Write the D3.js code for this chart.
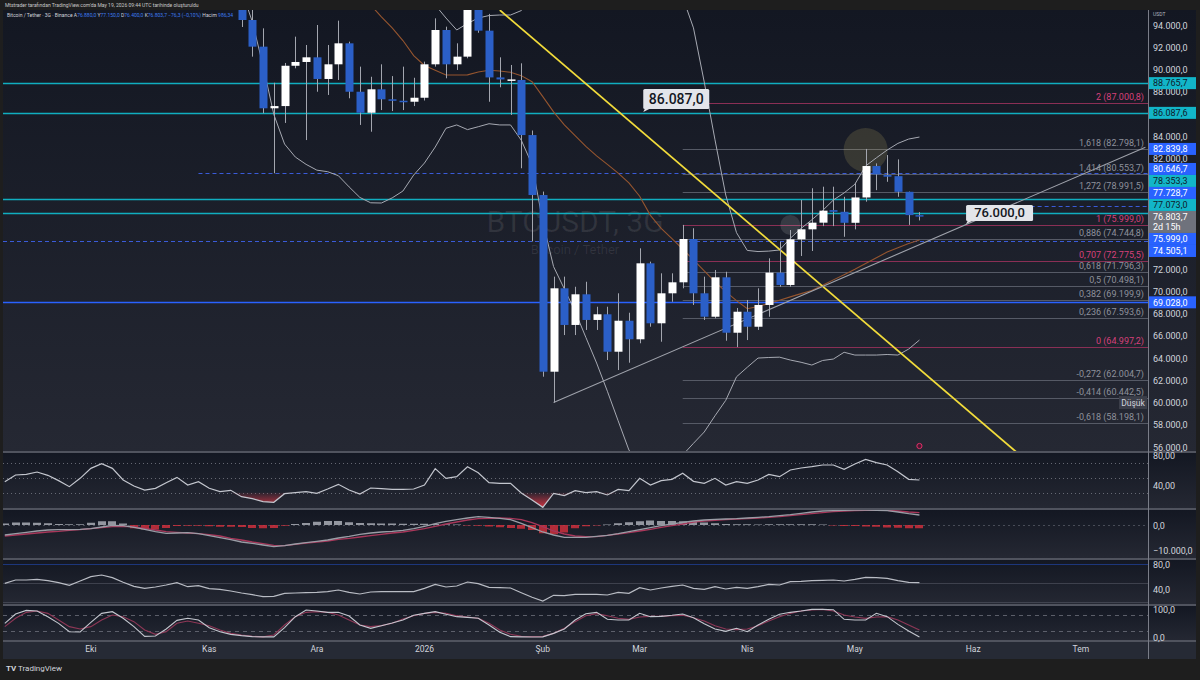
<!DOCTYPE html>
<html>
<head>
<meta charset="utf-8">
<script src="https://cdn.jsdelivr.net/npm/d3@7"></script>
<style>
  body { margin: 0; background: #1e1e1e; }
  svg { display: block; }
</style>
</head>
<body>
<script>
// ---- data (3 day bars, last bar opened 2026-05-19) ----
const lastBarDate = "2026-05-19";
const barDays = 3;

// open, high, low, close  (oldest first, only the bars inside the price window)
const ohlc = [
  [97000,98000,93820,94450],[94450,95600,91150,92050],[92050,93700,86050,86500],[86500,88800,80647,86700],
  [86700,90580,85180,90330],[90330,92950,90100,90670],[90670,92200,83640,91090],[91090,94000,87990,89140],
  [89140,92200,87700,90460],[90460,94390,89050,92350],[92350,92500,87400,87990],[87990,90250,85000,86100],
  [86100,89340,84390,88210],[88210,90460,86340,87310],[87310,89400,86250,87180],[87180,90250,86340,87090],
  [87090,89250,86700,87450],[87450,90700,87200,90460],[90460,94600,90250,93550],[93550,93850,89200,90460],
  [90460,92350,89950,91150],[91150,96500,91000,95700],[95700,97000,93300,93490],[93490,95000,87090,89280],
  [89280,91090,88390,89100],[89000,90400,85900,89100],[89050,90550,81100,84090],[84090,84500,74505,78690],
  [78690,79000,62330,62780],[62780,71340,60000,70290],[70290,71340,66080,66990],[66990,70430,66080,69750],
  [69750,70880,66540,67440],[67440,68630,66540,67950],[67950,68630,63830,64580],[64580,69840,62930,67370],
  [67370,68090,63590,65700],[65700,73890,65340,72540],[72540,72690,66830,67140],[67140,71640,65480,69840],
  [69840,71640,69080,70830],[70830,75999,70290,74730],[74730,75700,68790,69840],[69840,71340,67440,67730],
  [67730,71940,67590,71280],[71280,71780,65570,66290],[66290,68520,64997,68180],[68180,69240,65630,66830],
  [66830,70290,66540,68790],[68790,72990,67730,71700],[71700,74490,70430,70590],[70590,75540,70430,74700],
  [74700,78240,73200,75600],[75600,79300,73650,76200],[76200,79440,75890,77280],[77330,79440,75890,77180],
  [77180,78530,74930,76190],[76190,79800,75600,78470],[78470,82840,78090,81300],[81300,81540,79130,80550],
  [80490,82290,79880,80340],[80390,81900,78530,78980],[78980,79000,75999,76880],[76880,77150,76400,76803.7]
];

// bollinger bands for the same bars
const bbUpper = [112000,111000,110000,108000,106000,104500,103000,102000,101000,100000,99500,99000,98500,98000,97500,97000,96500,96200,
  95800,94630,93550,94140,94630,94850,94900,94900,95300,96300,98800,100100,99800,99900,100300,100900,101900,102900,103800,102800,
  100700,99000,97500,96500,93740,88870,83660,78690,75300,73700,73600,73640,73740,74800,75680,76460,77290,78240,78880,79660,
  81310,82040,82740,83340,83730,83910];
const bbBasis = [104500,103000,101500,100200,99000,98000,97300,96800,96500,96300,96100,95950,95800,
  94740,93740,92600,91240,90360,89930,89500,89500,89510,89770,89930,89860,89740,89440,88890,87550,86180,85000,84040,83070,
  82220,81450,80660,79780,78580,76860,75690,74760,73810,72860,71860,70870,69990,69180,68450,68650,68930,69220,69520,69810,
  70100,70560,71050,71520,72010,72530,73040,73550,73940,74320,74640];
const bbLower = [97150,94310,90340,85950,83280,82110,81450,80930,80790,80430,79420,78470,77990,77970,78430,79050,80490,81570,
  83010,84700,85000,84580,84840,85110,85000,85000,83620,81440,76260,72240,70240,68210,65870,63560,61020,58360,55730,54380,
  53030,52400,53930,55280,56330,57350,58810,60200,62320,63180,64010,64060,64090,63830,63630,63380,63790,63920,64530,64280,
  64280,64280,64330,64280,64820,65630];

// lower panes, all bars of the window (oldest first, last value = last bar)
const rsi = [44.4,53.3,54.2,57.3,52.9,45.8,37.8,48.9,62.2,68.4,62.2,46.7,38.7,33.3,35.6,43.1,50.2,40.0,44.4,35.6,
  31.1,32.9,24.4,21.8,17.8,16.9,28.4,29.8,31.1,28.9,34.7,40.9,33.3,28.0,36.0,35.1,34.2,34.2,34.7,40.0,
  61.8,48.9,51.1,64.4,56.4,43.1,42.2,42.2,29.3,20.0,10.2,28.9,25.8,32.4,29.8,31.1,26.7,34.2,32.4,48.9,
  40.0,45.8,47.6,55.6,44.9,42.2,48.9,40.0,44.4,42.2,46.7,54.2,51.1,60.0,62.7,64.4,66.7,66.7,60.9,68.0,
  74.2,69.8,66.7,57.8,47.6,46.7];
const macdLine = [-4000,-3470,-2930,-2400,-2000,-1870,-1870,-1730,-1470,-800,-130,-270,-930,-1730,-2670,-3330,-3200,-3070,-3470,-4270,
  -5070,-5870,-6800,-7330,-8000,-8670,-8270,-7600,-7070,-6530,-6000,-5200,-4530,-3730,-3200,-2800,-2530,-2130,-1470,-530,
  530,1470,2130,2800,3330,3070,2670,2130,670,-1070,-2800,-4000,-4930,-4930,-4930,-4530,-4130,-3470,-2670,-1870,
  -1070,-270,400,1070,1600,2000,2270,2400,2530,2800,3070,3330,3730,4130,4670,5200,5600,5730,5870,6000,
  6000,5870,5730,5200,4530,4000];
const macdSignal = [-4400,-4000,-3600,-3200,-2800,-2530,-2130,-1870,-1470,-1070,-670,-530,-670,-1330,-2000,-2670,-2930,-3200,-3470,-3870,
  -4400,-5330,-6000,-6800,-7470,-8130,-8270,-7730,-7200,-6800,-6400,-5730,-5330,-4800,-4270,-3730,-3200,-2800,-2130,-1470,
  -530,400,1200,2000,2530,2670,2800,2670,2130,930,-670,-2400,-3600,-4400,-4670,-4670,-4130,-3600,-3070,-2400,
  -1730,-930,-270,400,1200,1600,1870,2130,2400,2530,2800,3070,3330,3730,4130,4530,4930,5330,5600,5730,
  5870,5870,5870,5600,5200,4930];
const macdHist = [600,1000,1000,900,700,400,300,300,900,1500,1500,600,-1300,-1800,-1800,-1200,-400,-300,-300,-500,
  -700,-700,-800,-1200,-1300,-1200,-300,400,800,1300,1600,1600,1100,800,700,600,600,500,500,500,
  400,300,200,-200,-300,-600,-900,-1200,-1500,-2000,-3300,-3700,-3000,-1300,-500,-200,200,700,1100,1500,
  1800,1600,1600,1500,1300,1000,700,400,300,300,200,300,300,300,300,300,200,-200,-400,-400,
  -600,-700,-1000,-1100,-1300,-1300];
const rsiSlow = [49.1,54.4,54.4,55.5,53.3,50.1,45.9,52.8,59.7,62.4,58.1,50.7,44.3,41.1,43.2,46.4,50.1,43.7,45.3,40.5,
  39.5,36.8,33.6,30.9,27.7,28.3,33.1,33.6,34.1,34.7,35.7,38.4,34.7,32.0,35.2,35.7,35.7,35.7,35.7,41.1,
  47.5,43.2,44.8,51.2,48.5,42.7,42.1,41.6,34.1,26.7,20.8,29.9,29.3,31.5,31.5,31.5,30.4,34.7,33.1,42.1,
  38.4,41.6,44.3,46.4,41.1,39.5,43.7,40.0,42.7,41.1,43.7,47.5,46.4,51.7,52.3,53.3,53.9,54.4,52.8,55.5,
  58.7,58.1,57.1,53.3,50.7,50.1];
const stochK = [48.8,82,95,93,72.6,48.8,19,18,52,84.5,90.5,66.7,37,2.4,3.6,28.6,59.5,66.7,60.7,33.3,
  19,9.5,4.8,1.2,0.5,0.5,33.3,72.6,96.4,92.9,88.1,88.1,75,42.9,31,40.5,50,60.7,77.4,84.5,
  90.5,81,72.6,70.2,66.7,42.9,16.7,1.2,0.5,0,0.5,13,28.6,60.7,83.3,88.1,63.1,60.7,60.7,84.5,
  72.6,73.8,77.4,82.1,69,47.6,28.6,20.2,31,19,42.9,63.1,81,88.1,92.9,98.8,98.8,97.6,63.1,60.7,
  60.7,84.5,72.6,45.2,21.4,0];
const stochD = [37,66.7,88,93,84.5,60.7,37,28.6,37,60.7,78.6,72.6,54.8,25,9.5,19,48.8,57,48.8,40.5,
  25,13,7.1,2.4,0.5,7.1,42.9,72.6,88,90.5,88,78.6,60.7,42.9,37,40.5,48.8,64.3,76.2,84.5,
  88,84.5,76.2,71.4,66.7,48.8,25,9.5,2.4,1.2,2.4,13,31,54.8,76.2,83.3,76.2,66.7,63.1,71.4,
  73.8,73.8,76.2,77.4,69,57,40.5,28.6,26.2,28.6,40.5,57,72.6,84.5,93,96.4,98.8,93,78.6,71.4,
  66.7,71.4,72.6,60.7,42.9,25];

// drawings
const fibStart = "2026-03-14";
const fibRatios = [2,1.618,1.414,1.272,1,0.886,0.707,0.618,0.5,0.382,0.236,0,-0.272,-0.414,-0.618];
const fibPrices = [87000.8,82798.1,80553.7,78991.5,75999.0,74744.8,72775.5,71796.3,70498.1,69199.9,67593.6,64997.2,62004.7,60442.5,58198.1];
const fibPink = [2,1,0.707,0];

const hLinePrices = [88765.7,86087.6,78353.3,77073.0,69028.0,82839.8,80646.7,77728.7,74505.1];
const hLineKinds  = ["cyan","cyan","cyan","cyan","blue","dash","dash","dash","dash"];
const hLineFrom   = [null,null,null,null,null,"2026-05-04","2025-10-30","2026-06-19",null];

const axisTagPrices = [88765.7,86087.6,82839.8,80646.7,78353.3,77728.7,77073.0,75999.0,74505.1,69028.0];
const axisTagKinds  = ["cyan","cyan","blue","blue","cyan","blue","cyan","blue","blue","blue"];
const lastPrice = 76803.7;
const lastCountdown = "2d 15h";

const trendFrom = [["2026-01-22",95350],["2026-02-06",60000]];
const trendTo   = [["2026-06-15",55550],["2026-07-21",83000]];
const trendColor = ["#f2dc3b","#9fa2ab"];

const calloutAt   = [["2026-03-03",86087],["2026-06-01",75999]];
const calloutText = ["86.087,0","76.000,0"];

const priceTicks = [94000,92000,90000,88000,86000,84000,82000,80000,78000,76000,74000,72000,70000,68000,66000,64000,62000,60000,58000,56000];
const monthTickDates = ["2025-09-30","2025-11-02","2025-12-02","2026-01-01","2026-02-03","2026-03-02","2026-04-01","2026-05-01","2026-06-03","2026-07-03"];
const monthTickLabels = ["Eki","Kas","Ara","2026","Şub","Mar","Nis","May","Haz","Tem"];

// ---- layout ----
const W = 1200, H = 680;
const L = 3, R = 1148, AX = 1196;
const panes = { main:[10,452], rsi:[452,509], macd:[509,559], slow:[559,605], stoch:[605,641], time:[641,659] };
const DAY = 864e5;
const parse = s => new Date(s + "T00:00:00Z");
const lastDate = parse(lastBarDate);
const barDate = (i, n) => new Date(+lastDate - (n - 1 - i) * barDays * DAY);

const loc = d3.formatLocale({decimal: ",", thousands: ".", grouping: [3], currency: ["", ""]});
const fmt = loc.format(",.1f");
const font = "Roboto, 'Liberation Sans', sans-serif";

const x = d3.scaleUtc().domain([parse("2025-09-05"), parse("2026-07-22")]).range([1.2, 1149]);
const y = d3.scaleLinear().domain([56000, 94000]).range([447, 25]);
const yRsi = d3.scaleLinear().domain([40, 80]).range([485, 455]);
const yMacd = d3.scaleLinear().domain([-10000, 0]).range([550, 525]);
const ySlow = d3.scaleLinear().domain([40, 80]).range([589, 564]);
const yStoch = d3.scaleLinear().domain([0, 100]).range([637, 609]);

const svg = d3.select("body").append("svg").attr("width", W).attr("height", H)
  .style("font-family", font);
const defs = svg.append("defs");

const grad = defs.append("linearGradient").attr("id", "paneBg").attr("x1", 0).attr("y1", 0).attr("x2", 0).attr("y2", 1);
grad.append("stop").attr("offset", "0%").attr("stop-color", "#131722");
grad.append("stop").attr("offset", "100%").attr("stop-color", "#252833");

const redFill = defs.append("linearGradient").attr("id", "rsiRed").attr("gradientUnits", "userSpaceOnUse")
  .attr("x1", 0).attr("y1", yRsi(30)).attr("x2", 0).attr("y2", yRsi(12));
redFill.append("stop").attr("offset", "0%").attr("stop-color", "#f23645").attr("stop-opacity", 0.05);
redFill.append("stop").attr("offset", "100%").attr("stop-color", "#f23645").attr("stop-opacity", 0.75);

Object.entries(panes).forEach(([k, p]) => {
  defs.append("clipPath").attr("id", "clip-" + k).append("rect")
    .attr("x", L).attr("y", p[0]).attr("width", R - L).attr("height", p[1] - p[0]);
});

svg.append("rect").attr("width", W).attr("height", H).attr("fill", "#1e1e1e");

// pane backgrounds
["main","rsi","macd","slow","stoch"].forEach(k => {
  const p = panes[k];
  svg.append("rect").attr("x", L).attr("y", p[0]).attr("width", AX - L).attr("height", p[1] - p[0])
    .attr("fill", "url(#paneBg)");
});
svg.append("rect").attr("x", L).attr("y", panes.time[0]).attr("width", AX - L)
  .attr("height", panes.time[1] - panes.time[0]).attr("fill", "#262a35");

// ---- main pane ----
const gm = svg.append("g").attr("clip-path", "url(#clip-main)");
const n = ohlc.length;
const bars = ohlc.map((d, i) => ({date: barDate(i, n), o: d[0], h: d[1], l: d[2], c: d[3]}));

// watermark
gm.append("text").attr("x", 575).attr("y", 232).attr("text-anchor", "middle")
  .attr("font-size", 30).attr("fill", "rgba(255,255,255,0.09)").text("BTCUSDT, 3G");
gm.append("text").attr("x", 575).attr("y", 254).attr("text-anchor", "middle")
  .attr("font-size", 13).attr("fill", "rgba(255,255,255,0.09)").text("Bitcoin / Tether");

// horizontal lines
hLinePrices.forEach((p, i) => {
  const kind = hLineKinds[i];
  const x1 = hLineFrom[i] ? x(parse(hLineFrom[i])) : L;
  const yy = Math.round(y(p)) + 0.5;
  gm.append("line").attr("x1", x1).attr("x2", R).attr("y1", yy).attr("y2", yy)
    .attr("stroke", kind === "cyan" ? "#10aec0" : (kind === "dash" ? "#3a5bd8" : "#2962ff"))
    .attr("stroke-width", kind === "dash" ? 1.1 : 1.5)
    .attr("stroke-dasharray", kind === "dash" ? "4,3" : null);
});

// fib retracement
const fx = x(parse(fibStart));
fibRatios.forEach((r, i) => {
  const pink = fibPink.includes(r);
  const yy = Math.round(y(fibPrices[i])) + 0.5;
  gm.append("line").attr("x1", fx).attr("x2", R).attr("y1", yy).attr("y2", yy)
    .attr("stroke", pink ? "#8a2f55" : "#565a66").attr("stroke-width", 1);
  gm.append("text").attr("x", R - 4).attr("y", yy - 3.5).attr("text-anchor", "end")
    .attr("font-size", 9).attr("fill", pink ? "#d6407a" : "#8e919b")
    .text(String(r).replace(".", ",") + " (" + fmt(fibPrices[i]) + ")");
});

// circles
gm.append("circle").attr("cx", x(parse("2026-05-04"))).attr("cy", y(82744)).attr("r", 22)
  .attr("fill", "rgba(215,200,110,0.16)");
gm.append("circle").attr("cx", x(parse("2026-04-13"))).attr("cy", y(75990)).attr("r", 10)
  .attr("fill", "rgba(255,255,255,0.12)");

// bollinger
const priceLine = arr => d3.line().x((d, i) => x(barDate(i, arr.length))).y(d => y(d))(arr);
gm.append("path").attr("d", priceLine(bbUpper)).attr("fill", "none").attr("stroke", "#a6a9b2").attr("stroke-width", 1);
gm.append("path").attr("d", priceLine(bbLower)).attr("fill", "none").attr("stroke", "#a6a9b2").attr("stroke-width", 1);
gm.append("path").attr("d", priceLine(bbBasis)).attr("fill", "none").attr("stroke", "#95552f").attr("stroke-width", 1.1);

// trend lines
trendFrom.forEach((a, i) => {
  const b = trendTo[i];
  gm.append("line").attr("x1", x(parse(a[0]))).attr("y1", y(a[1]))
    .attr("x2", x(parse(b[0]))).attr("y2", y(b[1]))
    .attr("stroke", trendColor[i]).attr("stroke-width", i === 0 ? 1.7 : 1.1);
});

// candles
const bw = 8;
const cx = d => Math.round(x(d.date)) + 0.5;
gm.selectAll("line.wick").data(bars).join("line").attr("class", "wick")
  .attr("x1", cx).attr("x2", cx).attr("y1", d => y(d.h)).attr("y2", d => y(d.l))
  .attr("stroke", "#a3a6af").attr("stroke-width", 1);
gm.selectAll("rect.body").data(bars).join("rect").attr("class", "body")
  .attr("x", d => cx(d) - bw / 2).attr("width", bw)
  .attr("y", d => y(Math.max(d.o, d.c)))
  .attr("height", d => Math.max(1.5, Math.abs(y(d.o) - y(d.c))))
  .attr("fill", d => d.c >= d.o ? "#ffffff" : "#2b5fc7");

// small marker near the bottom
gm.append("circle").attr("cx", x(lastDate)).attr("cy", 446).attr("r", 2.6)
  .attr("fill", "#4a1830").attr("stroke", "#e0306a").attr("stroke-width", 1);

// callouts
calloutAt.forEach((a, i) => {
  const px = x(parse(a[0])), py = y(a[1]);
  const g = gm.append("g");
  const big = i === 0;
  const w = big ? 66 : 67, h = big ? 20 : 16;
  g.append("path").attr("d", `M${px},${py - 1} L${px + 2},${py - 5} L${px + 8},${py - 5} Z`).attr("fill", "#e3e5ea");
  g.append("rect").attr("x", px).attr("y", py - 4 - h).attr("width", w).attr("height", h).attr("rx", 1.5)
    .attr("fill", "#e3e5ea");
  g.append("text").attr("x", px + w / 2).attr("y", py - 4 - h / 2 + (big ? 5 : 4.5)).attr("text-anchor", "middle")
    .attr("font-size", big ? 14 : 13).attr("font-weight", 500).attr("fill", "#131722").text(calloutText[i]);
});

// ---- lower panes ----
const nInd = rsi.length;
const ix = i => x(barDate(i, nInd));

function levelLine(g, yy, color, dash, op) {
  g.append("line").attr("x1", L).attr("x2", R).attr("y1", yy).attr("y2", yy)
    .attr("stroke", color).attr("stroke-dasharray", dash).attr("stroke-opacity", op);
}

// RSI
const gr = svg.append("g").attr("clip-path", "url(#clip-rsi)");
[70, 50, 30].forEach(v => levelLine(gr, Math.round(yRsi(v)) + 0.5, "#787b86", "1,3", 0.8));
gr.append("path").datum(rsi)
  .attr("d", d3.area().x((d, i) => ix(i)).y0(yRsi(30)).y1(d => yRsi(Math.min(d, 30))))
  .attr("fill", "url(#rsiRed)");
gr.append("path").datum(rsi).attr("d", d3.line().x((d, i) => ix(i)).y(d => yRsi(d)))
  .attr("fill", "none").attr("stroke", "#c3c6ce").attr("stroke-width", 1.2);

// MACD
const gd = svg.append("g").attr("clip-path", "url(#clip-macd)");
levelLine(gd, Math.round(yMacd(0)) + 0.5, "#787b86", "2,3", 0.5);
gd.selectAll("rect").data(macdHist).join("rect")
  .attr("x", (d, i) => Math.round(ix(i)) - 4).attr("width", 8)
  .attr("y", d => Math.min(yMacd(0), yMacd(d)))
  .attr("height", d => Math.abs(yMacd(d) - yMacd(0)))
  .attr("fill", d => d >= 0 ? "#c9ccd4" : "#d8313d")
  .attr("fill-opacity", d => d >= 0 ? 0.7 : 0.8);
gd.append("path").datum(macdSignal).attr("d", d3.line().x((d, i) => ix(i)).y(d => yMacd(d)))
  .attr("fill", "none").attr("stroke", "#a8375a").attr("stroke-width", 1.3);
gd.append("path").datum(macdLine).attr("d", d3.line().x((d, i) => ix(i)).y(d => yMacd(d)))
  .attr("fill", "none").attr("stroke", "#9a9da6").attr("stroke-width", 1.3);

// slow RSI
const gs = svg.append("g").attr("clip-path", "url(#clip-slow)");
levelLine(gs, Math.round(ySlow(80)) + 0.5, "#2962ff", null, 0.4);
levelLine(gs, Math.round(ySlow(50)) + 0.5, "#555964", null, 0.6);
levelLine(gs, Math.round(ySlow(20)) + 0.5, "#555964", null, 0.6);
gs.append("path").datum(rsiSlow).attr("d", d3.line().x((d, i) => ix(i)).y(d => ySlow(d)))
  .attr("fill", "none").attr("stroke", "#b9bcc4").attr("stroke-width", 1.2);

// Stochastic
const gk = svg.append("g").attr("clip-path", "url(#clip-stoch)");
[80, 20].forEach(v => levelLine(gk, Math.round(yStoch(v)) + 0.5, "#787b86", "4,4", 0.7));
gk.append("path").datum(stochD).attr("d", d3.line().x((d, i) => ix(i)).y(d => yStoch(d)))
  .attr("fill", "none").attr("stroke", "#8e3756").attr("stroke-width", 1.1);
gk.append("path").datum(stochK).attr("d", d3.line().x((d, i) => ix(i)).y(d => yStoch(d)))
  .attr("fill", "none").attr("stroke", "#c3c6ce").attr("stroke-width", 1.1);

// ---- separators ----
[panes.rsi[0], panes.macd[0], panes.slow[0], panes.stoch[0], panes.time[0]].forEach(yy => {
  svg.append("line").attr("x1", L).attr("x2", AX).attr("y1", yy).attr("y2", yy)
    .attr("stroke", "#50535e").attr("stroke-width", 2);
});
svg.append("line").attr("x1", R + 0.5).attr("x2", R + 0.5).attr("y1", panes.main[0]).attr("y2", panes.time[1])
  .attr("stroke", "#7a7d88").attr("stroke-width", 1);

// ---- price axis ----
const ga = svg.append("g").attr("font-size", 9);

// tag stacking around the last price tag
const lastY = y(lastPrice);
const lastTop = lastY - 5, lastBot = lastY + 17;
const tags = axisTagPrices.map((p, i) => ({p, kind: axisTagKinds[i], ty: y(p)}));
let lim = lastTop;
tags.filter(t => t.p > lastPrice).sort((a, b) => b.ty - a.ty).forEach(t => {
  t.cy = Math.min(t.ty, lim - 6); lim = t.cy - 6;
});
lim = lastBot;
tags.filter(t => t.p < lastPrice).sort((a, b) => a.ty - b.ty).forEach(t => {
  if (t.ty - lastBot > 20) { t.cy = t.ty; return; }
  t.cy = Math.max(t.ty, lim + 6); lim = t.cy + 6;
});

// ticks fully hidden by a tag are not drawn
const hidden = p => tags.some(t => Math.abs(y(p) - t.cy) < 4) || (y(p) > lastTop - 2 && y(p) < lastBot + 2);
ga.selectAll("text.tick").data(priceTicks.filter(p => !hidden(p))).join("text").attr("class", "tick")
  .attr("x", 1153).attr("y", d => y(d) + 3.5).attr("fill", "#d1d4dc").text(d => fmt(d));

tags.forEach(t => {
  ga.append("rect").attr("x", R + 1).attr("y", t.cy - 6).attr("width", AX - R - 1).attr("height", 12)
    .attr("fill", t.kind === "cyan" ? "#12b5c8" : "#2962ff");
  ga.append("text").attr("x", 1153).attr("y", t.cy + 3.3)
    .attr("fill", t.kind === "cyan" ? "#0f1a2a" : "#ffffff").text(fmt(t.p));
});
ga.append("rect").attr("x", R + 1).attr("y", lastTop).attr("width", AX - R - 1).attr("height", lastBot - lastTop)
  .attr("fill", "#6f727c");
ga.append("text").attr("x", 1153).attr("y", lastY + 4).attr("fill", "#ffffff").text(fmt(lastPrice));
ga.append("text").attr("x", 1153).attr("y", lastY + 14).attr("fill", "#ffffff").text(lastCountdown);

// low tag
ga.append("rect").attr("x", 1119).attr("y", y(60000) - 6.5).attr("width", 28).attr("height", 13).attr("fill", "#3b3e49");
ga.append("text").attr("x", 1133).attr("y", y(60000) + 3).attr("text-anchor", "middle")
  .attr("font-size", 8.5).attr("fill", "#d1d4dc").text("Düşük");
ga.append("text").attr("x", 1153).attr("y", 16).attr("font-size", 5).attr("fill", "#b2b5be").text("USDT");

// lower pane axes
const loc2 = loc.format(",.2f");
[[yRsi, [80, 40], loc2], [yMacd, [0, -10000], fmt], [ySlow, [80, 40], fmt], [yStoch, [100, 0], fmt]].forEach(([sc, vals, f]) => {
  vals.forEach(v => ga.append("text").attr("x", 1153).attr("y", sc(v) + 3.5).attr("fill", "#d1d4dc")
    .text(f(v).replace("-", "−")));
});

// ---- time axis ----
svg.append("g").selectAll("text").data(monthTickDates).join("text")
  .attr("x", d => x(parse(d))).attr("y", 652).attr("text-anchor", "middle")
  .attr("font-size", 8.5).attr("fill", "#d1d4dc")
  .text((d, i) => monthTickLabels[i]);

// ---- header / footer ----
svg.append("text").attr("x", 5).attr("y", 6.5).attr("font-size", 5).attr("fill", "#c9c9c9")
  .text("Mtstrader tarafından TradingView.com'da May 19, 2026 09:44 UTC tarihinde oluşturuldu");
const leg = svg.append("text").attr("x", 7).attr("y", 17).attr("font-size", 5).attr("fill", "#d1d4dc");
leg.append("tspan").text("Bitcoin / Tether · 3G · Binance  A");
leg.append("tspan").attr("fill", "#3d7bf0").text("76.880,0 ");
leg.append("tspan").text("Y");
leg.append("tspan").attr("fill", "#3d7bf0").text("77.150,0 ");
leg.append("tspan").text("D");
leg.append("tspan").attr("fill", "#3d7bf0").text("76.400,0 ");
leg.append("tspan").text("K");
leg.append("tspan").attr("fill", "#3d7bf0").text("76.803,7 −76,3 (−0,10%)  ");
leg.append("tspan").text("Hacim ");
leg.append("tspan").attr("fill", "#3d7bf0").text("986,34");

const foot = svg.append("g").attr("transform", "translate(6,671)");
foot.append("text").attr("x", 0).attr("y", 0).attr("font-size", 8).attr("font-weight", 700)
  .attr("fill", "#d1d4dc").text("TV");
foot.append("text").attr("x", 12).attr("y", 0).attr("font-size", 8).attr("fill", "#d1d4dc").text("TradingView");
</script>
</body>
</html>
